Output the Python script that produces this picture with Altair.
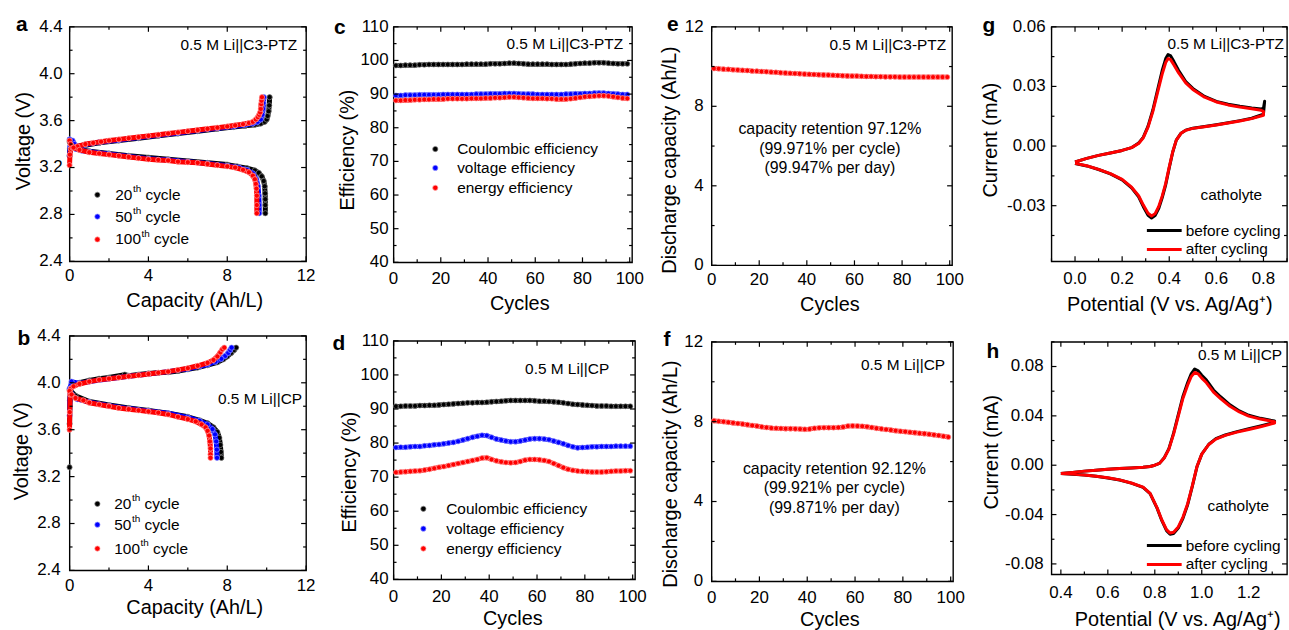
import altair as alt
import pandas as pd

FONT = "Liberation Sans"
BLACK, BLUE, RED = "#000000", "#0000ff", "#ff0000"
RING = {BLACK: "#8a8a8a", BLUE: "#9a9aff", RED: "#ffa8a8"}

# ---------------- panel a : 0.5 M Li||C3-PTZ voltage profiles ----------------
a20_ch_cap = [0.00, 0.02, 0.05, 0.10, 0.30, 0.80, 1.50, 2.50, 3.50, 4.50, 5.50, 6.50, 7.50, 8.30, 8.90, 9.40, 9.70, 9.90, 10.00, 10.05, 10.10, 10.13, 10.15]
a20_ch_v = [3.30, 3.36, 3.40, 3.41, 3.38, 3.39, 3.41, 3.43, 3.45, 3.47, 3.49, 3.51, 3.53, 3.545, 3.555, 3.565, 3.575, 3.59, 3.61, 3.64, 3.68, 3.73, 3.80]
a20_dis_cap = [0.00, 0.10, 0.30, 0.60, 1.00, 2.00, 3.00, 4.00, 5.00, 6.00, 7.00, 8.00, 8.50, 9.00, 9.40, 9.60, 9.75, 9.85, 9.90, 9.92, 9.93, 9.93, 9.93]
a20_dis_v = [3.42, 3.39, 3.365, 3.35, 3.34, 3.32, 3.30, 3.285, 3.27, 3.255, 3.24, 3.225, 3.21, 3.195, 3.175, 3.155, 3.125, 3.085, 3.04, 2.98, 2.93, 2.88, 2.81]
a50_ch_cap = [0.00, 0.03, 0.08, 0.15, 0.25, 0.40, 0.80, 1.50, 2.50, 3.50, 4.50, 5.50, 6.50, 7.50, 8.30, 8.90, 9.30, 9.55, 9.70, 9.78, 9.82, 9.84, 9.86]
a50_ch_v = [3.30, 3.38, 3.42, 3.43, 3.40, 3.38, 3.395, 3.415, 3.435, 3.455, 3.475, 3.495, 3.515, 3.535, 3.55, 3.565, 3.575, 3.59, 3.61, 3.65, 3.70, 3.75, 3.80]
a50_dis_cap = [0.00, 0.10, 0.30, 0.60, 1.00, 2.00, 3.00, 4.00, 5.00, 6.00, 7.00, 8.00, 8.60, 9.00, 9.30, 9.48, 9.56, 9.60, 9.62, 9.62]
a50_dis_v = [3.44, 3.39, 3.36, 3.345, 3.335, 3.315, 3.295, 3.275, 3.265, 3.25, 3.235, 3.215, 3.20, 3.18, 3.15, 3.10, 3.04, 2.96, 2.88, 2.81]
a100_ch_cap = [0.00, 0.02, 0.06, 0.15, 0.40, 0.80, 1.20, 1.60, 2.00, 2.50, 3.00, 3.50, 4.00, 4.50, 5.00, 5.50, 6.00, 6.50, 7.00, 7.50, 8.00, 8.40, 8.80, 9.10, 9.30, 9.45, 9.55, 9.62, 9.67, 9.70, 9.72, 9.74, 9.76]
a100_ch_v = [3.22, 3.31, 3.36, 3.37, 3.38, 3.40, 3.41, 3.42, 3.43, 3.44, 3.45, 3.46, 3.47, 3.48, 3.49, 3.50, 3.51, 3.52, 3.53, 3.54, 3.55, 3.56, 3.57, 3.58, 3.59, 3.61, 3.63, 3.65, 3.67, 3.70, 3.74, 3.77, 3.80]
a100_dis_cap = [0.00, 0.05, 0.20, 0.50, 1.00, 1.50, 2.00, 2.50, 3.00, 3.50, 4.00, 4.50, 5.00, 5.50, 6.00, 6.50, 7.00, 7.50, 8.00, 8.40, 8.80, 9.10, 9.30, 9.40, 9.45, 9.48, 9.50, 9.50, 9.50]
a100_dis_v = [3.43, 3.40, 3.37, 3.35, 3.33, 3.32, 3.31, 3.30, 3.29, 3.28, 3.27, 3.265, 3.26, 3.25, 3.245, 3.24, 3.23, 3.22, 3.21, 3.20, 3.18, 3.16, 3.13, 3.10, 3.06, 3.02, 2.96, 2.88, 2.81]

# ---------------- panel b : 0.5 M Li||CP voltage profiles ----------------
b20_first_cap = [0.00]
b20_first_v = [3.28]
b20_ch_cap = [0.00, 0.02, 0.05, 0.20, 0.50, 1.00, 1.50, 2.00, 2.80, 3.00, 3.50, 4.00, 4.50, 5.00, 5.50, 6.00, 6.50, 7.00, 7.50, 7.80, 8.00, 8.20, 8.35, 8.45]
b20_ch_v = [3.65, 3.85, 3.96, 3.98, 4.00, 4.02, 4.035, 4.045, 4.07, 4.06, 4.07, 4.08, 4.085, 4.09, 4.10, 4.115, 4.13, 4.15, 4.175, 4.20, 4.225, 4.255, 4.28, 4.30]
b20_dis_cap = [0.00, 0.30, 1.00, 2.00, 3.00, 4.00, 5.00, 6.00, 6.60, 7.00, 7.30, 7.50, 7.60, 7.65, 7.68, 7.70]
b20_dis_v = [3.94, 3.89, 3.84, 3.81, 3.785, 3.765, 3.74, 3.71, 3.68, 3.655, 3.62, 3.58, 3.53, 3.47, 3.41, 3.36]
b50_ch_cap = [0.00, 0.03, 0.10, 0.50, 1.00, 2.00, 3.00, 4.00, 5.00, 6.00, 6.60, 7.00, 7.40, 7.70, 7.90, 8.05, 8.15, 8.22]
b50_ch_v = [3.72, 3.95, 4.01, 3.995, 4.01, 4.035, 4.055, 4.075, 4.095, 4.12, 4.14, 4.155, 4.18, 4.205, 4.23, 4.255, 4.28, 4.30]
b50_dis_cap = [0.00, 0.15, 0.40, 1.00, 2.00, 3.00, 4.00, 5.00, 6.00, 6.60, 7.00, 7.25, 7.38, 7.44, 7.47, 7.48]
b50_dis_v = [3.95, 3.89, 3.86, 3.835, 3.805, 3.78, 3.76, 3.74, 3.705, 3.675, 3.645, 3.605, 3.56, 3.50, 3.43, 3.36]
b100_ch_cap = [0.00, 0.01, 0.03, 0.06, 0.20, 0.50, 1.00, 1.50, 2.00, 2.50, 3.00, 3.50, 4.00, 4.50, 5.00, 5.50, 6.00, 6.50, 7.00, 7.30, 7.50, 7.65, 7.75, 7.85]
b100_ch_v = [3.60, 3.75, 3.90, 3.95, 3.97, 3.99, 4.01, 4.025, 4.035, 4.045, 4.055, 4.065, 4.075, 4.085, 4.095, 4.11, 4.125, 4.145, 4.17, 4.195, 4.225, 4.26, 4.285, 4.30]
b100_dis_cap = [0.00, 0.10, 0.30, 0.70, 1.00, 1.50, 2.00, 2.50, 3.00, 3.50, 4.00, 4.50, 5.00, 5.50, 6.00, 6.40, 6.70, 6.90, 7.00, 7.08, 7.12, 7.15, 7.15, 7.15]
b100_dis_v = [3.93, 3.90, 3.87, 3.85, 3.83, 3.815, 3.80, 3.785, 3.775, 3.765, 3.755, 3.745, 3.73, 3.71, 3.69, 3.67, 3.645, 3.62, 3.59, 3.55, 3.50, 3.44, 3.39, 3.36]

# ---------------- panels c-f : cycling (every second cycle) ----------------
CYC = list(range(1, 100, 2))
c_ce = [98.5, 98.5, 98.6, 98.6, 98.6, 98.7, 98.7, 98.8, 98.8, 98.8,
        98.8, 98.8, 98.8, 98.8, 98.8, 98.9, 98.9, 98.9, 98.9, 98.9,
        99.0, 99.0, 99.0, 99.1, 99.2, 99.2, 99.1, 99.0, 98.9, 98.9,
        98.9, 98.9, 98.9, 98.8, 98.8, 98.8, 98.8, 98.9, 99.0, 99.1,
        99.2, 99.2, 99.3, 99.3, 99.3, 99.2, 99.1, 99.0, 99.0, 99.0]
c_ve = [89.6, 89.6, 89.7, 89.7, 89.7, 89.8, 89.8, 89.8, 89.8, 89.8,
        89.9, 89.9, 89.9, 89.9, 89.9, 89.9, 89.9, 90.0, 90.0, 90.0,
        90.1, 90.1, 90.1, 90.2, 90.2, 90.2, 90.1, 90.0, 90.0, 90.0,
        89.9, 89.9, 89.9, 89.9, 89.9, 89.9, 90.0, 90.0, 90.1, 90.1,
        90.2, 90.2, 90.3, 90.3, 90.3, 90.2, 90.1, 90.0, 89.9, 89.9]
c_ee = [88.1, 88.1, 88.2, 88.2, 88.3, 88.3, 88.4, 88.4, 88.5, 88.5,
        88.5, 88.6, 88.6, 88.6, 88.6, 88.6, 88.7, 88.7, 88.7, 88.8,
        88.8, 88.9, 88.9, 89.0, 89.1, 89.1, 89.0, 88.9, 88.8, 88.7,
        88.7, 88.7, 88.6, 88.6, 88.5, 88.5, 88.5, 88.6, 88.8, 89.0,
        89.2, 89.3, 89.4, 89.5, 89.5, 89.4, 89.2, 89.0, 88.8, 88.7]
d_ce = [90.8, 90.8, 90.9, 90.9, 90.9, 91.0, 91.0, 91.1, 91.1, 91.2,
        91.3, 91.4, 91.5, 91.6, 91.7, 91.8, 91.8, 91.9, 91.9, 92.0,
        92.1, 92.2, 92.3, 92.4, 92.5, 92.5, 92.5, 92.5, 92.5, 92.4,
        92.3, 92.3, 92.2, 92.1, 92.0, 91.8, 91.6, 91.4, 91.3, 91.2,
        91.1, 91.0, 90.9, 90.9, 90.9, 90.8, 90.8, 90.8, 90.8, 90.8]
d_ve = [78.7, 78.8, 78.8, 78.9, 79.0, 79.0, 79.2, 79.3, 79.5, 79.6,
        79.8, 80.0, 80.2, 80.5, 80.9, 81.3, 81.7, 82.0, 82.3, 82.2,
        81.7, 81.2, 80.9, 80.6, 80.4, 80.4, 80.6, 80.9, 81.2, 81.3,
        81.3, 81.2, 81.0, 80.6, 80.2, 79.8, 79.3, 78.9, 78.6, 78.7,
        78.8, 78.9, 78.9, 79.0, 79.0, 79.0, 79.1, 79.1, 79.1, 79.1]
d_ee = [71.4, 71.5, 71.6, 71.7, 71.8, 71.9, 72.1, 72.3, 72.6, 72.9,
        73.1, 73.4, 73.7, 74.0, 74.3, 74.6, 74.9, 75.2, 75.6, 75.7,
        75.2, 74.8, 74.5, 74.3, 74.2, 74.3, 74.6, 75.0, 75.2, 75.2,
        75.1, 74.9, 74.6, 74.0, 73.4, 72.8, 72.3, 72.0, 71.8, 71.7,
        71.6, 71.5, 71.5, 71.5, 71.6, 71.7, 71.8, 71.8, 71.9, 71.9]
e_cap = [9.90, 9.89, 9.87, 9.86, 9.84, 9.83, 9.81, 9.80, 9.78, 9.77,
         9.75, 9.74, 9.72, 9.71, 9.69, 9.68, 9.66, 9.65, 9.64, 9.62,
         9.61, 9.60, 9.59, 9.58, 9.57, 9.56, 9.55, 9.54, 9.53, 9.52,
         9.52, 9.51, 9.50, 9.50, 9.49, 9.49, 9.48, 9.48, 9.48, 9.47,
         9.47, 9.47, 9.47, 9.47, 9.47, 9.47, 9.47, 9.47, 9.47, 9.47]
f_cap = [8.05, 8.02, 8.00, 7.97, 7.94, 7.91, 7.88, 7.85, 7.81, 7.78,
         7.74, 7.71, 7.68, 7.67, 7.66, 7.65, 7.65, 7.64, 7.63, 7.62,
         7.63, 7.67, 7.69, 7.70, 7.70, 7.70, 7.71, 7.73, 7.78, 7.79,
         7.78, 7.77, 7.75, 7.71, 7.67, 7.64, 7.61, 7.58, 7.55, 7.52,
         7.50, 7.47, 7.45, 7.42, 7.40, 7.37, 7.34, 7.31, 7.27, 7.23]

# ---------------- panels g, h : cyclic voltammetry ----------------
g_bef_v = [0.00, 0.05, 0.10, 0.15, 0.20, 0.24, 0.27, 0.29, 0.31, 0.33, 0.35, 0.37, 0.385, 0.395, 0.405, 0.42, 0.44, 0.47, 0.50, 0.55, 0.60, 0.65, 0.70, 0.75, 0.79, 0.80, 0.805,
           0.80, 0.75, 0.70, 0.65, 0.60, 0.55, 0.50, 0.47, 0.45, 0.43, 0.415, 0.40, 0.385, 0.37, 0.355, 0.34, 0.325, 0.31, 0.29, 0.27, 0.24, 0.20, 0.15, 0.10, 0.05, 0.00]
g_bef_i = [-0.0080, -0.0062, -0.0047, -0.0035, -0.0022, -0.0008, 0.0015, 0.0045, 0.0100, 0.0180, 0.0280, 0.0380, 0.0440, 0.0460, 0.0455, 0.0425, 0.0380, 0.0325, 0.0290, 0.0250, 0.0225, 0.0210, 0.0200, 0.0192, 0.0187, 0.0190, 0.0225,
           0.0160, 0.0140, 0.0128, 0.0117, 0.0107, 0.0098, 0.0090, 0.0080, 0.0065, 0.0030, -0.0030, -0.0110, -0.0195, -0.0260, -0.0315, -0.0350, -0.0362, -0.0348, -0.0305, -0.0255, -0.0210, -0.0170, -0.0140, -0.0118, -0.0100, -0.0088]
g_aft_v = [0.00, 0.05, 0.10, 0.15, 0.20, 0.24, 0.27, 0.29, 0.31, 0.33, 0.35, 0.37, 0.385, 0.395, 0.405, 0.42, 0.44, 0.47, 0.50, 0.55, 0.60, 0.65, 0.70, 0.75, 0.79, 0.80,
           0.80, 0.75, 0.70, 0.65, 0.60, 0.55, 0.50, 0.47, 0.45, 0.43, 0.415, 0.40, 0.385, 0.37, 0.355, 0.34, 0.325, 0.31, 0.29, 0.27, 0.24, 0.20, 0.15, 0.10, 0.05, 0.00]
g_aft_i = [-0.0080, -0.0062, -0.0047, -0.0035, -0.0022, -0.0008, 0.0013, 0.0042, 0.0095, 0.0172, 0.0268, 0.0362, 0.0420, 0.0440, 0.0436, 0.0408, 0.0368, 0.0318, 0.0285, 0.0246, 0.0222, 0.0207, 0.0196, 0.0188, 0.0180, 0.0175,
           0.0155, 0.0138, 0.0126, 0.0116, 0.0106, 0.0097, 0.0089, 0.0079, 0.0064, 0.0030, -0.0028, -0.0105, -0.0188, -0.0252, -0.0305, -0.0340, -0.0352, -0.0338, -0.0297, -0.0250, -0.0207, -0.0168, -0.0139, -0.0117, -0.0099, -0.0087]
h_v = [0.40, 0.45, 0.50, 0.55, 0.60, 0.65, 0.70, 0.75, 0.78, 0.80, 0.82, 0.84, 0.86, 0.88, 0.90, 0.92, 0.94, 0.955, 0.97, 0.985, 1.00, 1.02, 1.05, 1.08, 1.12, 1.16, 1.20, 1.25, 1.31,
       1.31, 1.25, 1.20, 1.15, 1.10, 1.06, 1.03, 1.00, 0.98, 0.96, 0.94, 0.92, 0.90, 0.88, 0.865, 0.85, 0.83, 0.81, 0.78, 0.75, 0.70, 0.65, 0.60, 0.55, 0.50, 0.45, 0.40]
h_bef_i = [-0.0068, -0.0058, -0.0048, -0.0040, -0.0033, -0.0027, -0.0022, -0.0016, -0.0010, 0.0000, 0.0015, 0.0060, 0.0135, 0.0260, 0.0410, 0.0560, 0.0670, 0.0740, 0.0780, 0.0765, 0.0730, 0.0690, 0.0610, 0.0555, 0.0490, 0.0440, 0.0405, 0.0380, 0.0358,
           0.0348, 0.0318, 0.0295, 0.0272, 0.0245, 0.0215, 0.0170, 0.0090, -0.0010, -0.0170, -0.0320, -0.0430, -0.0510, -0.0553, -0.0560, -0.0530, -0.0450, -0.0350, -0.0230, -0.0180, -0.0145, -0.0120, -0.0103, -0.0090, -0.0080, -0.0073, -0.0068]
h_aft_i = [-0.0068, -0.0058, -0.0048, -0.0040, -0.0033, -0.0027, -0.0022, -0.0016, -0.0010, 0.0000, 0.0015, 0.0058, 0.0130, 0.0252, 0.0398, 0.0543, 0.0650, 0.0718, 0.0752, 0.0740, 0.0706, 0.0668, 0.0592, 0.0540, 0.0478, 0.0432, 0.0398, 0.0374, 0.0352,
           0.0342, 0.0312, 0.0290, 0.0268, 0.0242, 0.0212, 0.0168, 0.0090, -0.0008, -0.0165, -0.0312, -0.0420, -0.0500, -0.0543, -0.0550, -0.0522, -0.0444, -0.0346, -0.0228, -0.0178, -0.0144, -0.0119, -0.0102, -0.0089, -0.0079, -0.0072, -0.0068]

# ---------------- axis tick values ----------------
V_MAJ = [2.4, 2.8, 3.2, 3.6, 4.0, 4.4]
V_MIN = [2.6, 3.0, 3.4, 3.8, 4.2]
CAP_MAJ = [0, 4, 8, 12]
CAP_MIN = [2, 6, 10]
CYC_MAJ = [0, 20, 40, 60, 80, 100]
CYC_MIN = [10, 30, 50, 70, 90]
EFF_MAJ = [40, 50, 60, 70, 80, 90, 100, 110]
EFF_MIN = [45, 55, 65, 75, 85, 95, 105]
G_X_MAJ = [0.0, 0.2, 0.4, 0.6, 0.8]
G_X_MIN = [-0.1, 0.1, 0.3, 0.5, 0.7, 0.9]
G_Y_MAJ = [-0.03, 0.0, 0.03, 0.06]
G_Y_MIN = [-0.045, -0.015, 0.015, 0.045]
H_X_MAJ = [0.4, 0.6, 0.8, 1.0, 1.2]
H_X_MIN = [0.5, 0.7, 0.9, 1.1, 1.3]
H_Y_MAJ = [-0.08, -0.04, 0.0, 0.04, 0.08]
H_Y_MIN = [-0.06, -0.02, 0.02, 0.06, 0.10]


# ---------------- helpers ----------------
def sc(lo, hi):
    return alt.Scale(domain=[lo, hi], nice=False, zero=False)


def cdf(xv, yv):
    return pd.DataFrame({"x": xv, "y": yv, "i": list(range(len(xv)))})


def enc(xs, ys):
    return dict(x=alt.X("x:Q", scale=xs, axis=None), y=alt.Y("y:Q", scale=ys, axis=None))


def dotted(df, xs, ys, color, band=5, size=28, line=True):
    out = []
    if line:
        out.append(alt.Chart(df).mark_line(color=color, strokeWidth=band, strokeJoin="round", strokeCap="round").encode(
            order="i:Q", **enc(xs, ys)))
    out.append(alt.Chart(df).mark_circle(size=size, color=color, opacity=1, stroke=RING[color], strokeWidth=0.7).encode(
        **enc(xs, ys)))
    return out


def cvline(df, xs, ys, color):
    return alt.Chart(df).mark_line(color=color, strokeWidth=3, strokeJoin="round").encode(order="i:Q", **enc(xs, ys))


def T(s, x, y, size=15.5, align="left", baseline="middle", bold=False, angle=0):
    return alt.Chart(pd.DataFrame({"t": [s]})).mark_text(
        font=FONT, fontSize=size, align=align, baseline=baseline, angle=angle,
        fontWeight="bold" if bold else "normal", color="black").encode(
        text="t:N", x=alt.value(x), y=alt.value(y))


def axes_text(xs, ys, H, xvals, xlabs, xly, yvals, ylabs, ylx, xtitle, xt_x, xt_y, ytitle, yt_x, yt_y):
    return [
        alt.Chart(pd.DataFrame({"v": xvals, "t": xlabs})).mark_text(
            font=FONT, fontSize=17, align="center", baseline="middle", color="black").encode(
            x=alt.X("v:Q", scale=xs, axis=None), y=alt.value(H + xly), text="t:N"),
        alt.Chart(pd.DataFrame({"v": yvals, "t": ylabs})).mark_text(
            font=FONT, fontSize=17, align="right", baseline="middle", color="black").encode(
            y=alt.Y("v:Q", scale=ys, axis=None), x=alt.value(-ylx), text="t:N"),
        T(xtitle, xt_x, H + xt_y, size=20, align="center"),
        T(ytitle, yt_x, yt_y, size=20, align="center", angle=270),
    ]


def tick_layers(xs, ys, xmaj, xmin, ymaj, ymin, W, H):
    out = []
    for vals, ln in ((xmaj, 5), (xmin, 3)):
        d = pd.DataFrame({"v": vals})
        for y0, y1 in ((H, H - ln), (0, ln)):
            out.append(alt.Chart(d).mark_rule(color="black", strokeWidth=1.2).encode(
                x=alt.X("v:Q", scale=xs, axis=None), y=alt.value(y0), y2=alt.value(y1)))
    for vals, ln in ((ymaj, 5), (ymin, 3)):
        d = pd.DataFrame({"v": vals})
        for x0, x1 in ((0, ln), (W, W - ln)):
            out.append(alt.Chart(d).mark_rule(color="black", strokeWidth=1.2).encode(
                y=alt.Y("v:Q", scale=ys, axis=None), x=alt.value(x0), x2=alt.value(x1)))
    return out


def one():
    return pd.DataFrame({"k": [0]})


def anchor(left, right, top, bottom):
    return alt.Chart(one()).mark_rule(color="white", opacity=0, strokeWidth=0.1).encode(
        x=alt.value(-left), x2=alt.value(right), y=alt.value(-top), y2=alt.value(bottom))


def dot(x, y, color, size=28):
    return alt.Chart(one()).mark_circle(size=size, color=color, opacity=1, stroke=RING[color], strokeWidth=0.7).encode(
        x=alt.value(x), y=alt.value(y))


def seg(x0, x1, y, color):
    return alt.Chart(one()).mark_rule(color=color, strokeWidth=3).encode(
        x=alt.value(x0), x2=alt.value(x1), y=alt.value(y))


def cycle_legend(xd, xt, ys):
    out = []
    for (n, col), y in zip((("20", BLACK), ("50", BLUE), ("100", RED)), ys):
        w = 0.556 * len(n) * 15.5
        out += [dot(xd, y, col), T(n, xt, y), T("th", xt + w + 0.5, y - 5.5, size=10),
                T("cycle", xt + w + 0.5 + 8.3 + 4.3, y)]
    return out


def eff_legend(xd, xt, ys):
    out = []
    for (s, col), y in zip((("Coulombic efficiency", BLACK), ("voltage efficiency", BLUE),
                            ("energy efficiency", RED)), ys):
        out += [dot(xd, y, col), T(s, xt, y)]
    return out


def fmt(vals, f):
    return [format(v, f) for v in vals]


# ---------------- panels a, b ----------------
def voltage_panel(W, H, curves, extra, letter, lx, ly, label, lab_x, lab_y, leg, xly, ylx, yt_x, yt_y, xt_x, xt_y, anc):
    xs, ys = sc(0, 12), sc(2.4, 4.4)
    layers = []
    for (cx, cy, col) in curves:
        layers += dotted(cdf(cx, cy), xs, ys, col, band=5, size=28)
    for (cx, cy, col) in extra:
        layers += dotted(cdf(cx, cy), xs, ys, col, size=28, line=False)
    layers += tick_layers(xs, ys, CAP_MAJ, CAP_MIN, V_MAJ, V_MIN, W, H)
    layers += axes_text(xs, ys, H, CAP_MAJ, fmt(CAP_MAJ, "d"), xly, V_MAJ, fmt(V_MAJ, ".1f"), ylx,
                        "Capacity (Ah/L)", xt_x, xt_y, "Voltage (V)", yt_x, yt_y)
    layers += [T(letter, lx, ly, size=21, align="center", baseline="alphabetic", bold=True),
               T(label, lab_x, lab_y, align="right")]
    layers += leg
    layers.append(anc)
    return alt.layer(*layers).properties(width=W, height=H)


pa = voltage_panel(
    238, 236,
    [(a20_ch_cap, a20_ch_v, BLACK), (a20_dis_cap, a20_dis_v, BLACK),
     (a50_ch_cap, a50_ch_v, BLUE), (a50_dis_cap, a50_dis_v, BLUE),
     (a100_ch_cap, a100_ch_v, RED), (a100_dis_cap, a100_dis_v, RED)], [],
    "a", -48, 4, "0.5 M Li||C3-PTZ", 229, 18, cycle_legend(28, 46, [169, 191, 214]),
    15, 7, -46, 115, 126, 40, anchor(69, 258, 24, 236 + 56))
pb = voltage_panel(
    238, 236,
    [(b20_ch_cap, b20_ch_v, BLACK), (b20_dis_cap, b20_dis_v, BLACK),
     (b50_ch_cap, b50_ch_v, BLUE), (b50_dis_cap, b50_dis_v, BLUE),
     (b100_ch_cap, b100_ch_v, RED), (b100_dis_cap, b100_dis_v, RED)],
    [(b20_first_cap, b20_first_v, BLACK)],
    "b", -46, 9, "0.5 M Li||CP", 234, 64, cycle_legend(28, 45, [169, 190, 214]),
    16, 9, -48, 116, 126, 38, anchor(69, 258, 17, 236 + 48))


# ---------------- panels c, d ----------------
def eff_panel(W, H, ce, ve, ee, letter, lx, ly, label, lab_x, lab_y, leg, xly, ylx, yt_x, yt_y, xt_x, xt_y, anc):
    xs, ys = sc(0, 101), sc(40, 110)
    layers = []
    for vals, col in ((ce, BLACK), (ve, BLUE), (ee, RED)):
        layers += dotted(cdf(CYC, vals), xs, ys, col, band=4.5, size=26)
    layers += tick_layers(xs, ys, CYC_MAJ, CYC_MIN, EFF_MAJ, EFF_MIN, W, H)
    layers += axes_text(xs, ys, H, CYC_MAJ, fmt(CYC_MAJ, "d"), xly, EFF_MAJ, fmt(EFF_MAJ, "d"), ylx,
                        "Cycles", xt_x, xt_y, "Efficiency (%)", yt_x, yt_y)
    layers += [T(letter, lx, ly, size=21, align="center", baseline="alphabetic", bold=True),
               T(label, lab_x, lab_y, align="right")]
    layers += leg
    layers.append(anc)
    return alt.layer(*layers).properties(width=W, height=H)


pc = eff_panel(240, 237, c_ce, c_ve, c_ee, "c", -54, 7, "0.5 M Li||C3-PTZ", 231, 17,
               eff_legend(42, 64, [123, 142, 162]), 17, 5, -46, 124, 127, 42, anchor(66, 263, 24, 237 + 56))
pd_ = eff_panel(243, 240, d_ce, d_ve, d_ee, "d", -55, 9, "0.5 M Li||CP", 217, 28,
                eff_legend(30, 53, [169, 189, 209]), 17.5, 5, -44, 132, 120, 40, anchor(66, 263, 21, 240 + 48))


# ---------------- panels e, f ----------------
def cap_panel(W, H, vals, letter, lx, ly, label, lab_x, lab_y, notes, nx, nys, xly, ylx, yt_x, yt_y, xt_x, xt_y, anc):
    xs, ys = sc(0, 101), sc(0, 12)
    layers = dotted(cdf(CYC, vals), xs, ys, RED, band=4.5, size=26)
    layers += tick_layers(xs, ys, CYC_MAJ, CYC_MIN, CAP_MAJ, CAP_MIN, W, H)
    layers += axes_text(xs, ys, H, CYC_MAJ, fmt(CYC_MAJ, "d"), xly, CAP_MAJ, fmt(CAP_MAJ, "d"), ylx,
                        "Cycles", xt_x, xt_y, "Discharge capacity (Ah/L)", yt_x, yt_y)
    layers += [T(letter, lx, ly, size=21, align="center", baseline="alphabetic", bold=True),
               T(label, lab_x, lab_y, align="right")]
    for s, y in zip(notes, nys):
        layers.append(T(s, nx, y, size=16, align="center"))
    layers.append(anc)
    return alt.layer(*layers).properties(width=W, height=H)


pe = cap_panel(242, 240, e_cap, "e", -39, 4, "0.5 M Li||C3-PTZ", 236, 18,
               ["capacity retention 97.12%", "(99.971% per cycle)", "(99.947% per day)"], 119, [103, 123, 142],
               15, 8, -42, 134, 119, 40, anchor(55, 263, 24, 240 + 56))
pf = cap_panel(243, 241, f_cap, "f", -45, 4, "0.5 M Li||CP", 235, 23,
               ["capacity retention 92.12%", "(99.921% per cycle)", "(99.871% per day)"], 123.5, [128, 147, 167],
               16.5, 8.5, -41, 133, 119, 39, anchor(55, 263, 19, 241 + 48))


# ---------------- panels g, h ----------------
def cv_panel(W, H, xdom, ydom, bef, aft, xmaj, xmin, ymaj, ymin, letter, lx, ly, label, lab_x, lab_y,
             cat_x, cat_y, xly, ylx, yt_x, yt_y, xt_x, xt_y, anc):
    xs, ys = sc(*xdom), sc(*ydom)
    layers = [cvline(bef, xs, ys, BLACK), cvline(aft, xs, ys, RED)]
    layers += tick_layers(xs, ys, xmaj, xmin, ymaj, ymin, W, H)
    layers += axes_text(xs, ys, H, xmaj, fmt(xmaj, ".1f"), xly, ymaj, fmt(ymaj, ".2f"), ylx,
                        "Potential (V vs. Ag/Ag\u207a)", xt_x, xt_y, "Current (mA)", yt_x, yt_y)
    layers += [T(letter, lx, ly, size=21, align="center", baseline="alphabetic", bold=True),
               T(label, lab_x, lab_y, align="right"),
               T("catholyte", cat_x, cat_y, align="center"),
               seg(96, 131, 205, BLACK), T("before cycling", 135, 205),
               seg(96, 131, 224, RED), T("after cycling", 135, 224)]
    layers.append(anc)
    return alt.layer(*layers).properties(width=W, height=H)


pg = cv_panel(237, 236, (-0.1, 0.9), (-0.058, 0.06), cdf(g_bef_v, g_bef_i), cdf(g_aft_v, g_aft_i),
              G_X_MAJ, G_X_MIN, G_Y_MAJ, G_Y_MIN, "g", -63, 5, "0.5 M Li||C3-PTZ", 234, 17, 181, 169,
              17.5, 6, -61, 114, 119, 44, anchor(77, 238, 24, 236 + 56))
ph = cv_panel(237, 234, (0.36, 1.363), (-0.0885, 0.10), cdf(h_v, h_bef_i), cdf(h_v, h_aft_i),
              H_X_MAJ, H_X_MIN, H_Y_MAJ, H_Y_MIN, "h", -59, 16, "0.5 M Li||CP", 232, 13, 188, 165,
              18.5, 8, -60, 111, 127, 46, anchor(77, 238, 23, 234 + 48))

col1 = alt.vconcat(pa, pb, spacing=0)
col2 = alt.vconcat(pc, pd_, spacing=0)
col3 = alt.vconcat(pe, pf, spacing=0)
col4 = alt.vconcat(pg, ph, spacing=0)

chart = alt.hconcat(col1, col2, col3, col4, spacing=0).properties(
    padding={"left": 0, "top": 0, "right": 0, "bottom": 0}
).configure(font=FONT).configure_view(stroke="black", strokeWidth=1.4)

chart.save("out.html", embed_options={"renderer": "svg", "actions": False})
